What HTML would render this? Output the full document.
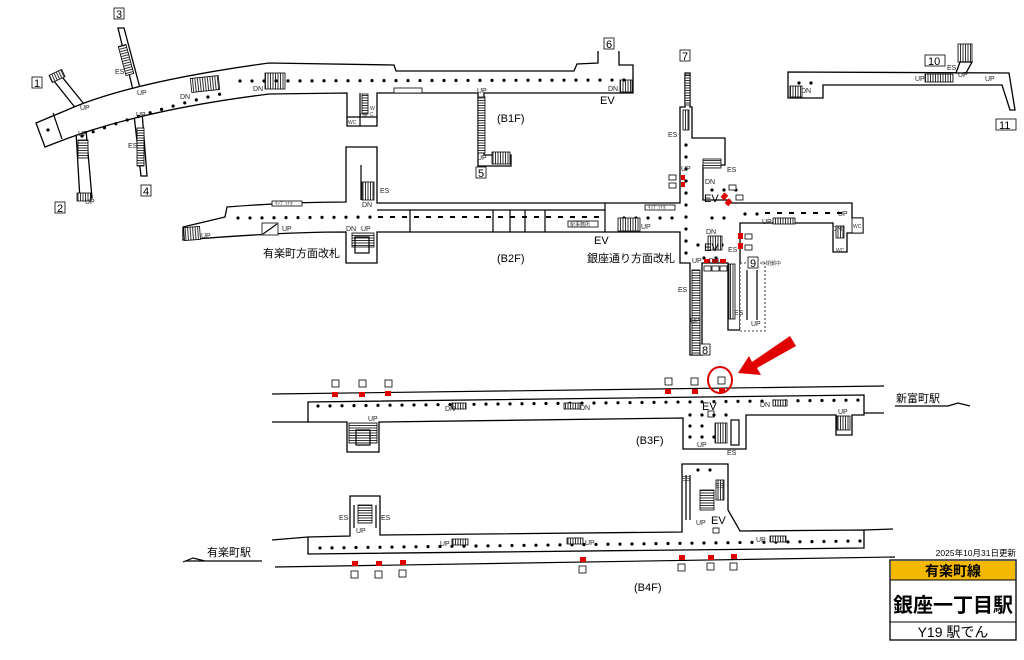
<!DOCTYPE html>
<html><head><meta charset="utf-8">
<style>
html,body{margin:0;padding:0;background:#fff;}
svg{display:block;font-family:"Liberation Sans","Noto Sans CJK JP",sans-serif;}
.w{fill:#fff;stroke:#000;stroke-width:1.3;}
.l{fill:none;stroke:#000;stroke-width:1.2;}
.d{fill:none;stroke:#000;stroke-width:3.2;stroke-linecap:round;stroke-dasharray:0 12;}
.dd{fill:none;stroke:#000;stroke-width:2;stroke-dasharray:5 7;}
.s{fill:url(#hv);stroke:#000;stroke-width:.8;}
.sh{fill:url(#hh);stroke:#000;stroke-width:.8;}
.t{font-size:7px;fill:#222;}
.n{font-size:11px;fill:#000;}
.r{fill:#e00000;}
.bx{fill:#fff;stroke:#000;stroke-width:.8;}
.sm{font-size:5px;fill:#333;}
</style></head><body>
<svg width="1024" height="660" viewBox="0 0 1024 660">
<defs>
<pattern id="hv" width="2.5" height="4" patternUnits="userSpaceOnUse"><rect width="2.5" height="4" fill="#fff"/><line x1="0.5" y1="0" x2="0.5" y2="4" stroke="#000" stroke-width=".8"/></pattern>
<pattern id="hh" width="4" height="2.5" patternUnits="userSpaceOnUse"><rect width="4" height="2.5" fill="#fff"/><line x1="0" y1="0.5" x2="4" y2="0.5" stroke="#000" stroke-width=".8"/></pattern>
</defs>

<!-- ===== B1F ===== -->
<polygon class="w" points="50,76 58,72 84,104 77,110"/>
<rect class="s" x="50" y="72" width="14" height="8" transform="rotate(-25 57 76)"/>
<polygon class="w" points="76,132 86,130 92,198 80,200"/>
<rect class="sh" x="78" y="140" width="10" height="18"/>
<rect class="s" x="77" y="193" width="14" height="8"/>
<polygon class="w" points="118,28 124,28 140,88 133,90"/>
<rect class="sh" x="122" y="45" width="8" height="30" transform="rotate(-15 126 60)"/>
<polygon class="w" points="134,115 142,112 147,176 141,176"/>
<rect class="sh" x="137" y="128" width="7" height="38"/>
<path class="w" d="M36,123 L67,110 Q130,82 269,63 L394,65 L396,71 L574,71 L577,64 L598,63 L598,52 L619,52 L619,65 L633,65 L633,93 L484,93 L484,155 L511,155 L511,166 L478,166 L478,93 L377,93 L377,126 L347,126 L347,93 L269,94 Q140,110 58,142 L45,147 Z"/>
<line x1="599" y1="52" x2="618" y2="52" stroke="#fff" stroke-width="3"/>
<path class="l" d="M53,113 L62,139"/>
<rect class="s" x="191" y="77" width="28" height="14" transform="rotate(-6 205 84)"/>
<rect class="s" x="265" y="73" width="20" height="16"/>
<rect class="s" x="620" y="80" width="12" height="12"/>
<rect class="sh" x="478" y="97" width="7" height="56"/>
<rect class="s" x="492" y="152" width="18" height="12"/>
<rect class="bx" x="394" y="88" width="28" height="5"/>
<line class="l" x1="347" y1="117" x2="377" y2="117"/>
<line class="l" x1="360" y1="93" x2="360" y2="126"/>
<rect class="sh" x="362" y="94" width="6" height="20"/>
<path class="d" d="M82,136 Q150,110 225,93"/>
<path class="d" d="M240,81 L630,80"/>
<circle cx="48" cy="130" r="1.6"/>
<text class="t" x="80" y="110">UP</text><text class="t" x="78" y="136">UP</text>
<text class="t" x="137" y="95">UP</text><text class="t" x="136" y="117">UP</text>
<text class="t" x="115" y="74">ES</text><text class="t" x="128" y="148">ES</text>
<text class="t" x="180" y="99">DN</text><text class="t" x="253" y="91">DN</text>
<text class="t" x="608" y="91">DN</text><text class="t" x="477" y="93">UP</text>
<text class="t" x="477" y="160">UP</text><text class="t" x="85" y="204">UP</text>
<text class="sm" x="348" y="124">WC</text><text class="sm" x="360" y="117">DN</text><text class="sm" x="370" y="110">W</text><text class="sm" x="370" y="116">C</text>
<text class="n" x="600" y="104">EV</text>
<text class="n" x="497" y="122">(B1F)</text>
<rect class="bx" x="32" y="77" width="10" height="11"/><text class="n" x="34" y="87" font-size="10">1</text>
<rect class="bx" x="55" y="202" width="10" height="11"/><text class="n" x="57" y="212" font-size="10">2</text>
<rect class="bx" x="114" y="8" width="10" height="11"/><text class="n" x="116" y="18" font-size="10">3</text>
<rect class="bx" x="141" y="185" width="10" height="11"/><text class="n" x="143" y="195" font-size="10">4</text>
<rect class="bx" x="476" y="167" width="10" height="11"/><text class="n" x="478" y="177" font-size="10">5</text>
<rect class="bx" x="604" y="38" width="10" height="11"/><text class="n" x="606" y="48" font-size="10">6</text>

<!-- 10/11 -->
<path class="w" d="M788,72 L1009,73 L1015,110 L1010,110 L1002,85 L823,85 L823,98 L788,98 Z"/>
<rect class="s" x="790" y="86" width="12" height="11"/>
<rect class="s" x="925" y="74" width="28" height="8"/>
<rect class="s" x="958" y="44" width="14" height="18"/>
<polygon class="w" points="960,62 972,62 966,73 956,73"/>
<line class="d" x1="799" y1="83" x2="812" y2="83"/>
<text class="t" x="801" y="93">DN</text><text class="t" x="915" y="81">UP</text><text class="t" x="947" y="70">ES</text><text class="t" x="958" y="77">UP</text><text class="t" x="985" y="81">UP</text>
<rect class="bx" x="925" y="55" width="20" height="11"/><text class="n" x="928" y="65" font-size="10">10</text>
<rect class="bx" x="996" y="119" width="20" height="11"/><text class="n" x="999" y="129" font-size="10">11</text>

<!-- ===== B2F ===== -->
<path class="w" d="M183,227 L225,217 L227,207 Q290,202 346,202 L346,147 L377,147 L377,203 L680,203 L680,107 L685,107 L685,73 L690,73 L690,107 L692,107 L692,138 L725,138 L725,165 L703,165 L703,200 L730,200 L730,203 L852,203 L852,218 L863,218 L863,233 L847,233 L847,252 L833,252 L833,223 L740,223 L740,330 L728,330 L728,263 L702,263 L702,355 L690,355 L690,263 L680,263 L680,232 L377,232 L377,263 L346,263 L346,232 Q280,232 183,240 Z"/>
<line class="l" x1="377" y1="210" x2="605" y2="210"/>
<line class="l" x1="605" y1="203" x2="605" y2="232"/>
<path class="l" d="M410,210 V232 M493,210 V232 M510,210 V232 M525,210 V232 M545,210 V232"/>
<line class="dd" x1="378" y1="217" x2="600" y2="217"/>
<path class="d" d="M238,218 L380,217 M624,218 L680,218"/>
<path class="d" d="M686,145 L686,260 M698,245 L726,245 M704,258 L728,258 M712,190 L740,190 M712,218 L733,218"/>
<path class="d" d="M745,214 L760,214"/>
<line class="dd" x1="765" y1="213" x2="845" y2="213"/>
<rect class="s" x="184" y="227" width="16" height="13" transform="rotate(-4 192 233)"/>
<rect class="bx" x="262" y="223" width="16" height="12"/><line class="l" x1="263" y1="234" x2="277" y2="224"/>
<rect class="s" x="362" y="182" width="12" height="18"/>
<line class="l" x1="361" y1="165" x2="361" y2="200"/>
<rect class="sh" x="352" y="233" width="22" height="14"/>
<rect class="l" x="355" y="237" width="14" height="16"/>
<rect class="s" x="618" y="218" width="22" height="13"/>
<rect class="sh" x="685" y="75" width="5" height="30"/>
<rect class="s" x="683" y="110" width="6" height="20"/>
<rect class="sh" x="703" y="159" width="18" height="9"/>
<rect class="s" x="708" y="236" width="14" height="14"/>
<rect class="s" x="773" y="218" width="22" height="6"/>
<rect class="s" x="836" y="226" width="8" height="12"/>
<rect class="sh" x="692" y="270" width="8" height="85"/>
<rect class="s" x="729" y="264" width="6" height="55"/>
<rect class="bx" x="740" y="263" width="25" height="68" stroke-dasharray="2 2"/>
<path class="l" d="M747,270 V320 M757,270 V320"/>
<rect class="bx" x="272" y="201" width="30" height="5"/><rect class="bx" x="645" y="205" width="30" height="5"/>
<rect class="bx" x="568" y="221" width="30" height="6"/>
<rect class="r" x="681" y="175" width="4" height="5"/><rect class="r" x="681" y="182" width="4" height="5"/>
<rect class="r" x="722" y="193" width="5" height="6" transform="rotate(40 724 196)"/><rect class="r" x="726" y="199" width="5" height="6" transform="rotate(40 728 202)"/>
<rect class="r" x="738" y="233" width="5" height="6"/><rect class="r" x="738" y="243" width="5" height="6"/>
<rect class="r" x="704" y="259" width="6" height="4"/><rect class="r" x="712" y="259" width="6" height="4"/><rect class="r" x="720" y="259" width="6" height="4"/>
<rect class="bx" x="669" y="175" width="7" height="5"/><rect class="bx" x="669" y="183" width="7" height="5"/>
<rect class="bx" x="729" y="185" width="7" height="5"/><rect class="bx" x="736" y="195" width="7" height="5"/>
<rect class="bx" x="745" y="234" width="7" height="5"/><rect class="bx" x="745" y="245" width="7" height="5"/>
<rect class="bx" x="704" y="266" width="7" height="5"/><rect class="bx" x="712" y="266" width="7" height="5"/><rect class="bx" x="720" y="266" width="7" height="5"/>
<rect class="bx" x="852" y="218" width="11" height="15"/>
<text class="t" x="201" y="238">UP</text><text class="t" x="282" y="231">UP</text>
<text class="t" x="380" y="193">ES</text><text class="t" x="362" y="207">DN</text>
<text class="t" x="346" y="231">DN</text><text class="t" x="361" y="231">UP</text>
<text class="t" x="641" y="229">UP</text><text class="t" x="681" y="171">UP</text>
<text class="t" x="668" y="137">ES</text><text class="t" x="727" y="172">ES</text>
<text class="t" x="705" y="184">DN</text><text class="t" x="706" y="234">DN</text>
<text class="t" x="728" y="252">ES</text><text class="t" x="692" y="263">UP</text><text class="t" x="709" y="263">DN</text>
<text class="t" x="762" y="224">UP</text><text class="t" x="838" y="216">UP</text>
<text class="t" x="832" y="231">DN</text><text class="sm" x="853" y="228">WC</text><text class="sm" x="836" y="252">WC</text>
<text class="t" x="678" y="292">ES</text><text class="t" x="690" y="323">UP</text>
<text class="t" x="734" y="315">ES</text><text class="t" x="751" y="326">UP</text>
<text class="n" x="704" y="202">EV</text><text class="n" x="704" y="251">EV</text>
<text class="n" x="594" y="244">EV</text>
<text class="sm" x="275" y="205">ｷｯﾌﾟﾗｲﾎﾞ</text><text class="sm" x="648" y="209">ｷｯﾌﾟﾗｲﾎﾞ</text><text class="sm" x="570" y="226">駅事務所</text>
<text class="n" x="263" y="257" font-size="11">有楽町方面改札</text>
<text class="n" x="587" y="262" font-size="11">銀座通り方面改札</text>
<text class="n" x="497" y="262">(B2F)</text>
<rect class="bx" x="680" y="50" width="10" height="11"/><text class="n" x="682" y="60" font-size="10">7</text>
<rect class="bx" x="700" y="344" width="10" height="11"/><text class="n" x="702" y="354" font-size="10">8</text>
<rect class="bx" x="748" y="257" width="10" height="11"/><text class="n" x="750" y="267" font-size="10">9</text>
<text class="sm" x="761" y="265" font-size="7">※閉鎖中</text>

<!-- ===== B3F ===== -->
<line class="l" x1="272" y1="394" x2="884" y2="386"/>
<line class="l" x1="272" y1="422" x2="308" y2="422"/>
<line class="l" x1="864" y1="413" x2="884" y2="413"/>
<polygon class="w" points="308,402 864,395 864,415 852,415 852,435 836,435 836,415 746,415 746,449 683,449 683,418 379,422 379,452 347,452 347,422 308,422"/>
<rect class="sh" x="349" y="423" width="28" height="20"/>
<rect class="l" x="356" y="430" width="14" height="15"/>
<rect class="s" x="837" y="416" width="13" height="14"/>
<rect class="s" x="715" y="423" width="12" height="20"/>
<rect class="l" x="731" y="420" width="8" height="25"/>
<rect class="bx" x="708" y="411" width="6" height="6"/>
<path class="d" d="M318,406 L865,400"/>
<path class="d" d="M690,415 L730,415 M690,426 L705,426 M690,437 L715,437"/>
<rect class="s" x="452" y="403" width="14" height="6"/><rect class="s" x="564" y="403" width="16" height="6"/><rect class="s" x="773" y="400" width="14" height="6"/>
<rect class="r" x="332" y="392" width="6" height="5"/><rect class="r" x="359" y="392" width="6" height="5"/><rect class="r" x="385" y="391" width="6" height="5"/>
<rect class="r" x="665" y="389" width="6" height="5"/><rect class="r" x="692" y="389" width="6" height="5"/><rect class="r" x="719" y="388" width="6" height="5"/>
<rect class="bx" x="332" y="380" width="7" height="7"/><rect class="bx" x="359" y="380" width="7" height="7"/><rect class="bx" x="385" y="380" width="7" height="7"/>
<rect class="bx" x="665" y="378" width="7" height="7"/><rect class="bx" x="691" y="378" width="7" height="7"/><rect class="bx" x="718" y="377" width="7" height="7"/>
<text class="t" x="445" y="411">DN</text><text class="t" x="580" y="410">DN</text><text class="t" x="760" y="407">DN</text>
<text class="t" x="368" y="421">UP</text><text class="t" x="838" y="414">UP</text><text class="t" x="697" y="447">UP</text><text class="t" x="727" y="455">ES</text>
<text class="n" x="702" y="410">EV</text>
<text class="n" x="636" y="444">(B3F)</text>
<ellipse cx="720" cy="380" rx="12" ry="13" fill="none" stroke="#e00000" stroke-width="2"/>
<polygon fill="#e00000" points="790,336 796,346 757,368 761,375 738,373 749,356 752,362"/>
<text class="n" x="896" y="402">新富町駅</text>
<path class="l" d="M895,406 L948,406 L958,403 L970,406" stroke="#888"/>

<!-- ===== B4F ===== -->
<line class="l" x1="272" y1="540" x2="308" y2="537"/>
<line class="l" x1="864" y1="530" x2="893" y2="529"/>
<polygon class="w" points="308,537 350,536 350,496 380,496 380,535 682,532 682,464 728,464 728,510 740,531 864,530 864,548 308,554"/>
<line class="l" x1="275" y1="567" x2="895" y2="557"/>
<rect class="sh" x="358" y="505" width="14" height="18"/>
<path class="l" d="M354,505 V528 M376,505 V528 M686,475 V520 M690,475 V520"/>
<rect class="sh" x="700" y="490" width="14" height="20"/>
<rect class="s" x="716" y="480" width="8" height="20"/>
<rect class="bx" x="713" y="528" width="6" height="5"/>
<path class="d" d="M320,548 L860,541"/>
<path class="d" d="M698,470 L712,470"/>
<rect class="s" x="452" y="539" width="16" height="6"/><rect class="s" x="567" y="538" width="16" height="6"/><rect class="s" x="770" y="536" width="16" height="6"/>
<rect class="r" x="352" y="561" width="6" height="5"/><rect class="r" x="376" y="561" width="6" height="5"/><rect class="r" x="400" y="560" width="6" height="5"/>
<rect class="r" x="580" y="557" width="6" height="5"/><rect class="r" x="679" y="555" width="6" height="5"/><rect class="r" x="708" y="555" width="6" height="5"/><rect class="r" x="731" y="554" width="6" height="5"/>
<rect class="bx" x="351" y="571" width="7" height="7"/><rect class="bx" x="375" y="571" width="7" height="7"/><rect class="bx" x="399" y="570" width="7" height="7"/>
<rect class="bx" x="579" y="566" width="7" height="7"/><rect class="bx" x="678" y="564" width="7" height="7"/><rect class="bx" x="707" y="563" width="7" height="7"/><rect class="bx" x="730" y="563" width="7" height="7"/>
<text class="t" x="339" y="520">ES</text><text class="t" x="381" y="520">ES</text><text class="t" x="356" y="533">UP</text>
<text class="t" x="681" y="481">ES</text><text class="t" x="715" y="488">ES</text><text class="t" x="696" y="525">UP</text>
<text class="t" x="440" y="546">UP</text><text class="t" x="585" y="545">UP</text><text class="t" x="756" y="542">UP</text>
<text class="n" x="711" y="524" font-size="10">EV</text>
<text class="n" x="634" y="591">(B4F)</text>
<text class="n" x="207" y="556">有楽町駅</text>
<path class="l" d="M185,561 L262,561 M183,562 L193,558 L205,561" stroke="#888"/>

<!-- legend -->
<text x="1016" y="556" text-anchor="end" font-size="8.5" fill="#000">2025年10月31日更新</text>
<rect x="890" y="560" width="126" height="80" fill="#fff" stroke="#000" stroke-width="1.3"/>
<rect x="891" y="561" width="124" height="19" fill="#f5b800"/>
<line x1="890" y1="580" x2="1016" y2="580" stroke="#000"/>
<line x1="890" y1="622" x2="1016" y2="622" stroke="#000"/>
<text x="953" y="576" text-anchor="middle" font-size="14" font-weight="bold" fill="#000">有楽町線</text>
<text x="953" y="612" text-anchor="middle" font-size="20" font-weight="bold" fill="#000">銀座一丁目駅</text>
<text x="953" y="637" text-anchor="middle" font-size="14" fill="#000">Y19 駅でん</text>
</svg>
</body></html>
